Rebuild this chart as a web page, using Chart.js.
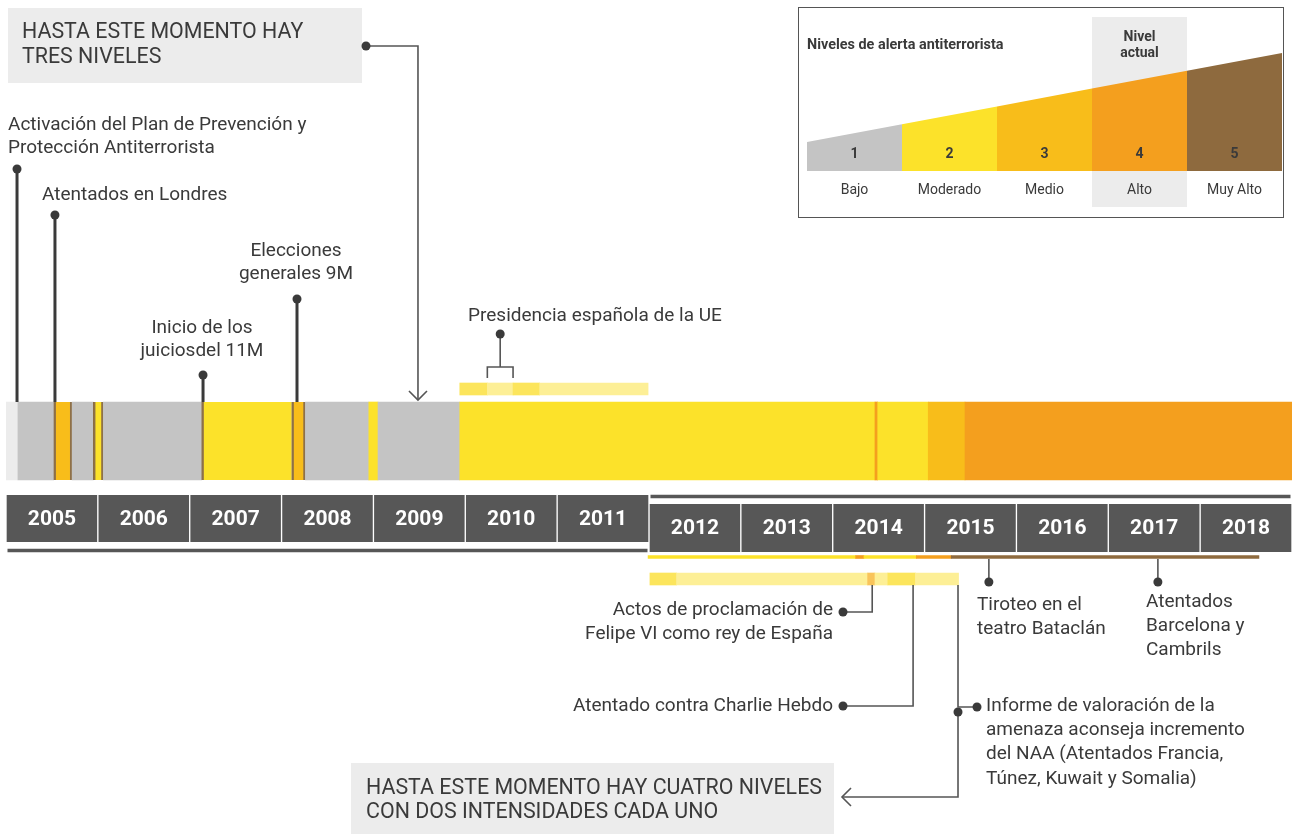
<!DOCTYPE html>
<html>
<head>
<meta charset="utf-8">
<script src="https://cdn.jsdelivr.net/npm/chart.js@4.4.1/dist/chart.umd.min.js"></script>
<style>
html, body { margin: 0; padding: 0; background: #fff; }
canvas { display: block; }
</style>
</head>
<body>
<canvas id="timeline" width="1292" height="834"></canvas>
<script>
// niveles de alerta
var levelNames = ['Bajo', 'Moderado', 'Medio', 'Alto', 'Muy Alto'];
var levelColors = ['#c4c4c4', '#fce22a', '#f8bd1a', '#f49f1e', '#8e6a3e'];
var noLevelColor = '#ececec';
var currentLevel = 4;

// banda principal (0 = sin plan)
var bandStart = [2005.00, 2005.13, 2005.52, 2005.72, 2005.95, 2006.06, 2007.13, 2008.11, 2008.26, 2008.95, 2009.05, 2009.94, 2014.46, 2014.49, 2015.04, 2015.44];
var bandEnd   = [2005.13, 2005.52, 2005.72, 2005.95, 2006.06, 2007.13, 2008.11, 2008.26, 2008.95, 2009.05, 2009.94, 2014.46, 2014.49, 2015.04, 2015.44, 2019.00];
var bandLevel = [0, 1, 3, 1, 2, 1, 2, 3, 1, 2, 1, 2, 4, 2, 3, 4];
var bandEdges = ['', '', 'lr', '', 'lr', '', 'l', 'lr', '', '', '', '', '', '', '', ''];

// intensidades
var toneColors = { alta: '#fce55c', baja: '#fdef96', media: '#f9c45a' };
var euStart = [2009.94, 2010.24, 2010.52, 2010.81];
var euEnd   = [2010.24, 2010.52, 2010.81, 2011.99];
var euTone  = ['alta', 'baja', 'alta', 'baja'];
var subStart = [2012.01, 2012.30, 2014.38, 2014.46, 2014.60, 2014.90];
var subEnd   = [2012.30, 2014.38, 2014.46, 2014.60, 2014.90, 2015.37];
var subTone  = ['alta', 'baja', 'media', 'baja', 'alta', 'baja'];

// linea fina bajo 2012-2018
var lineStart = [2011.99, 2014.25, 2014.34, 2014.91, 2015.29];
var lineEnd   = [2014.25, 2014.34, 2014.91, 2015.29, 2018.64];
var lineLevel = [2, 4, 2, 4, 5];

var yearsTop = [2005, 2006, 2007, 2008, 2009, 2010, 2011];
var yearsBottom = [2012, 2013, 2014, 2015, 2016, 2017, 2018];

// eventos
var topDates = [2005.12, 2005.533, 2007.145, 2008.168];
var topLabels = [
    ['Activación del Plan de Prevención y', 'Protección Antiterrorista'],
    ['Atentados en Londres'],
    ['Inicio de los', 'juiciosdel 11M'],
    ['Elecciones', 'generales 9M']
];
var downDates = [2015.70, 2017.54];
var downLabels = [
    ['Tiroteo en el', 'teatro Bataclán'],
    ['Atentados', 'Barcelona y', 'Cambrils']
];
var leftDates = [2014.43, 2014.875];
var leftLabels = [
    ['Actos de proclamación de', 'Felipe VI como rey de España'],
    ['Atentado contra Charlie Hebdo']
];
var informeDate = 2015.364;
var informeLabel = ['Informe de valoración de la', 'amenaza aconseja incremento', 'del NAA (Atentados Francia,', 'Túnez, Kuwait y Somalia)'];
var euRange = [2010.24, 2010.52];
var euLabel = 'Presidencia española de la UE';
var threeLevelsDate = 2009.485;
var threeLevelsLabel = ['HASTA ESTE MOMENTO HAY', 'TRES NIVELES'];
var fourLevelsLabel = ['HASTA ESTE MOMENTO HAY CUATRO NIVELES', 'CON DOS INTENSIDADES CADA UNO'];

// posiciones verticales de cada fila (px)
var ROW = { band: 441, eu: 389, sub: 579, line: 557, yearsTop: 518.5, yearsBottom: 528, ruleTop: 550.5, ruleBottom: 496.5 };
var TEXT = '#3a3a3a';
var BOX = '#575757';

function levelColor(l) { return l === 0 ? noLevelColor : levelColors[l - 1]; }
function ranges(starts, ends, y) {
    return starts.map(function (s, i) { return { x: [s, ends[i]], y: y }; });
}

var datasets = [
    {
        data: ranges(bandStart, bandEnd, ROW.band),
        backgroundColor: bandLevel.map(levelColor),
        borderColor: 'rgba(130, 96, 52, 0.9)',
        borderWidth: function (c) {
            var e = bandEdges[c.dataIndex] || '';
            return { left: e.indexOf('l') >= 0 ? 2.5 : 0, right: e.indexOf('r') >= 0 ? 2.5 : 0, top: 0, bottom: 0 };
        },
        barThickness: 78
    },
    {
        data: ranges(euStart, euEnd, ROW.eu),
        backgroundColor: euTone.map(function (t) { return toneColors[t]; }),
        barThickness: 12
    },
    {
        data: ranges(subStart, subEnd, ROW.sub),
        backgroundColor: subTone.map(function (t) { return toneColors[t]; }),
        barThickness: 12
    },
    {
        data: ranges(lineStart, lineEnd, ROW.line),
        backgroundColor: lineLevel.map(levelColor),
        barThickness: 3
    },
    {
        data: yearsTop.map(function (y) { return { x: [y, y + 1], y: ROW.yearsTop }; }),
        backgroundColor: BOX,
        borderColor: '#ffffff',
        borderWidth: { left: 1, right: 1, top: 0, bottom: 0 },
        barThickness: 47
    },
    {
        data: yearsBottom.map(function (y) { return { x: [y, y + 1], y: ROW.yearsBottom }; }),
        backgroundColor: BOX,
        borderColor: '#ffffff',
        borderWidth: { left: 1, right: 1, top: 0, bottom: 0 },
        barThickness: 48
    },
    {
        data: [
            { x: [yearsTop[0] + 0.02, yearsBottom[0] - 0.02], y: ROW.ruleTop },
            { x: [yearsBottom[0] + 0.02, yearsBottom[yearsBottom.length - 1] + 0.98], y: ROW.ruleBottom }
        ],
        backgroundColor: BOX,
        barThickness: 3
    }
];
datasets.forEach(function (d) { d.borderSkipped = false; });

function dot(c, x, y) {
    c.beginPath();
    c.arc(x, y, 4.5, 0, Math.PI * 2);
    c.fill();
}
function poly(c, pts) {
    c.beginPath();
    c.moveTo(pts[0][0], pts[0][1]);
    for (var i = 1; i < pts.length; i++) c.lineTo(pts[i][0], pts[i][1]);
    c.stroke();
}
function lines(c, arr, x, y, lh) {
    arr.forEach(function (t, i) { c.fillText(t, x, y + i * lh); });
}

var annotations = {
    id: 'annotations',
    afterDatasetsDraw: function (chart) {
        var c = chart.ctx, sx = chart.scales.x;
        var X = function (v) { return sx.getPixelForValue(v); };
        var LH = 23.5;
        c.save();
        c.textBaseline = 'middle';

        // year labels
        c.fillStyle = '#ffffff';
        c.font = 'bold 21px Roboto';
        c.textAlign = 'center';
        yearsTop.forEach(function (y) { c.fillText(String(y), X(y + 0.5), ROW.yearsTop + 1); });
        yearsBottom.forEach(function (y) { c.fillText(String(y), X(y + 0.5), ROW.yearsBottom + 1); });

        c.font = '19px Roboto';
        c.fillStyle = TEXT;
        c.strokeStyle = TEXT;

        // eventos sobre la banda
        var topLayout = [
            { dot: 169, tx: 8, ty: 125, align: 'left' },
            { dot: 215, tx: 42, ty: 195, align: 'left' },
            { dot: 375, tx: 202, ty: 328, align: 'center' },
            { dot: 299, tx: 296, ty: 251, align: 'center' }
        ];
        c.lineWidth = 3;
        topDates.forEach(function (d, i) {
            var L = topLayout[i], px = X(d);
            poly(c, [[px, L.dot], [px, ROW.band - 39]]);
            dot(c, px, L.dot);
            c.textAlign = L.align;
            lines(c, topLabels[i], L.tx, L.ty, LH);
        });

        c.lineWidth = 1.6;
        c.strokeStyle = '#555555';
        // presidencia UE
        var b0 = X(euRange[0]), b1 = X(euRange[1]), bm = (b0 + b1) / 2;
        poly(c, [[b0, 378], [b0, 367], [b1, 367], [b1, 378]]);
        poly(c, [[bm, 334], [bm, 367]]);
        dot(c, bm, 334);
        c.textAlign = 'left';
        c.fillText(euLabel, 468, 316);

        // tres niveles
        c.fillStyle = '#ececec';
        c.fillRect(8, 8, 354, 75);
        c.fillStyle = TEXT;
        c.font = '21.4px Roboto';
        lines(c, threeLevelsLabel, 22, 33, 25);
        var ta = X(threeLevelsDate);
        poly(c, [[366, 46], [ta, 46], [ta, 400]]);
        poly(c, [[ta - 9, 391], [ta, 400], [ta + 9, 391]]);
        dot(c, 366, 46);

        // cuatro niveles
        c.fillStyle = '#ececec';
        c.fillRect(351, 763, 483, 71);
        c.fillStyle = TEXT;
        lines(c, fourLevelsLabel, 366, 789, 24);
        var ia = X(informeDate);
        poly(c, [[ia, 712], [ia, 797], [842, 797]]);
        poly(c, [[851, 788], [842, 797], [851, 806]]);
        dot(c, ia, 712);

        c.font = '19px Roboto';
        // eventos bajo la linea 2012-2018
        var downLayout = [{ tx: 977, ty: 605 }, { tx: 1146, ty: 602 }];
        downDates.forEach(function (d, i) {
            var px = X(d);
            poly(c, [[px, 559], [px, 582]]);
            dot(c, px, 582);
            c.textAlign = 'left';
            lines(c, downLabels[i], downLayout[i].tx, downLayout[i].ty, 24);
        });

        // eventos a la izquierda
        var leftLayout = [{ y: 612, ty: 610 }, { y: 706, ty: 706 }];
        leftDates.forEach(function (d, i) {
            var px = X(d), L = leftLayout[i];
            poly(c, [[px, 585], [px, L.y], [843, L.y]]);
            dot(c, 843, L.y);
            c.textAlign = 'right';
            lines(c, leftLabels[i], 833, L.ty, 24);
        });

        // informe
        poly(c, [[ia, 585], [ia, 707], [977, 707]]);
        dot(c, 977, 707);
        c.textAlign = 'left';
        lines(c, informeLabel, 986, 706, 24.3);

        // leyenda de niveles
        c.strokeStyle = '#555555';
        c.lineWidth = 1;
        c.strokeRect(798.5, 7.5, 485, 210);
        var w = 95, x0 = 807, base = 171, yL = 142, yR = 53;
        var topAt = function (x) { return yL + (yR - yL) * (x - x0) / (w * levelNames.length); };
        c.fillStyle = '#ececec';
        c.fillRect(x0 + (currentLevel - 1) * w, 17, w, 190);
        levelNames.forEach(function (name, i) {
            var a = x0 + i * w, e = a + w;
            c.fillStyle = levelColors[i];
            c.beginPath();
            c.moveTo(a, base); c.lineTo(a, topAt(a)); c.lineTo(e, topAt(e)); c.lineTo(e, base);
            c.closePath(); c.fill();
            c.fillStyle = TEXT;
            c.textAlign = 'center';
            c.font = 'bold 14px Roboto';
            c.fillText(String(i + 1), a + w / 2, 154);
            c.font = '14px Roboto';
            c.fillText(name, a + w / 2, 190);
        });
        c.font = 'bold 14px Roboto';
        c.fillText('Nivel', x0 + (currentLevel - 0.5) * w, 37);
        c.fillText('actual', x0 + (currentLevel - 0.5) * w, 53);
        c.textAlign = 'left';
        c.font = 'bold 14.4px Roboto';
        c.fillText('Niveles de alerta antiterrorista', 807, 45);
        c.restore();
    }
};

var ctx = document.getElementById('timeline').getContext('2d');
var timeline = new Chart(ctx, {
    type: 'bar',
    data: { datasets: datasets },
    options: {
        indexAxis: 'y',
        responsive: false,
        animation: false,
        layout: { padding: { left: 6, right: 0, top: 0, bottom: 0 } },
        scales: {
            x: { type: 'linear', min: 2005, max: 2019, display: false, stacked: false, offset: false },
            y: { type: 'linear', min: 0, max: 834, reverse: true, display: false, stacked: true, offset: false }
        },
        plugins: {
            legend: { display: false },
            tooltip: { enabled: false }
        }
    },
    plugins: [annotations]
});
</script>
</body>
</html>
